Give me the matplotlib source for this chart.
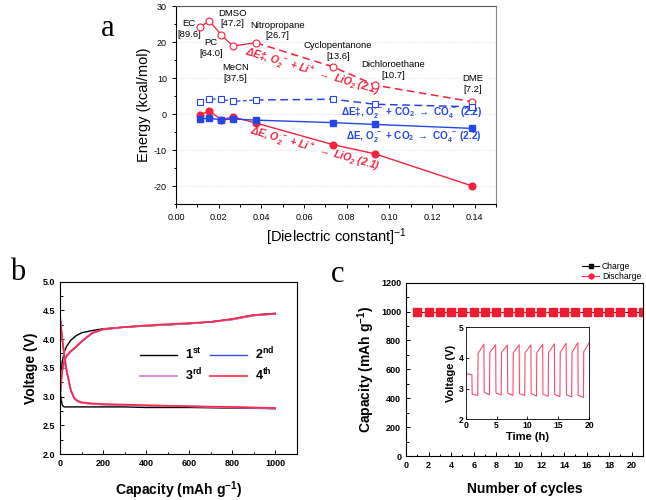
import matplotlib
matplotlib.use("Agg")
import matplotlib.pyplot as plt
from matplotlib.lines import Line2D
from matplotlib.ticker import MultipleLocator, FormatStrFormatter

plt.rcParams['font.family'] = ['Liberation Sans', 'DejaVu Sans']
plt.rcParams['mathtext.default'] = 'regular'
plt.rcParams['axes.unicode_minus'] = False

# ---- panel a: energies vs 1/dielectric constant ----
eps = [89.6, 64.0, 47.2, 37.5, 26.7, 13.6, 10.7, 7.2]
inv_eps = [1.0 / e for e in eps]
de_ts_li = [24.1, 25.9, 22.0, 18.9, 19.8, 13.1, 8.0, 3.4]   # dE‡, O2- + Li+
de_ts_co2 = [3.4, 4.2, 4.1, 3.5, 3.9, 4.1, 2.7, 2.0]        # dE‡, O2- + CO2
de_li = [-0.3, 0.9, -1.6, -0.8, -2.5, -8.5, -11.1, -20.0]   # dE, O2- + Li+
de_co2 = [-1.4, -1.2, -1.6, -1.4, -1.7, -2.4, -2.9, -4.0]   # dE, O2- + CO2
solvent_labels = ['EC\n[89.6]', 'DMSO\n[47.2]', 'PC\n[64.0]', 'MeCN\n[37.5]',
                  'Nitropropane\n[26.7]', 'Cyclopentanone\n[13.6]',
                  'Dichloroethane\n[10.7]', 'DME\n[7.2]']
label_pos = [(0.0061, 23.6), (0.0263, 26.5), (0.0164, 18.3), (0.0280, 11.3),
             (0.0474, 23.2), (0.0759, 17.6), (0.1017, 12.3), (0.1392, 8.3)]

# ---- panel b: voltage profiles ----
cap_ch = [0, 5, 10, 20, 30, 50, 75, 100, 150, 200, 300, 400, 500, 600, 700, 800, 900, 1000]
v_ch1 = [2.85, 3.35, 3.60, 3.78, 3.87, 3.98, 4.06, 4.11, 4.15, 4.18, 4.21, 4.23, 4.25, 4.27, 4.30, 4.35, 4.42, 4.45]
v_ch2 = [3.00, 3.25, 3.45, 3.62, 3.70, 3.78, 3.86, 3.95, 4.10, 4.17, 4.21, 4.23, 4.25, 4.27, 4.30, 4.34, 4.41, 4.44]
v_ch3 = [3.00, 3.24, 3.44, 3.61, 3.70, 3.79, 3.87, 3.96, 4.11, 4.17, 4.21, 4.23, 4.25, 4.27, 4.30, 4.34, 4.41, 4.44]
v_ch4 = [3.00, 3.25, 3.45, 3.62, 3.71, 3.79, 3.87, 3.96, 4.11, 4.17, 4.21, 4.24, 4.26, 4.28, 4.30, 4.35, 4.42, 4.44]
cap_dis = [0, 5, 10, 15, 20, 30, 50, 65, 80, 100, 150, 200, 300, 400, 600, 800, 1000]
v_dis1 = [3.10, 2.95, 2.86, 2.83, 2.82, 2.82, 2.82, 2.82, 2.82, 2.82, 2.82, 2.82, 2.82, 2.81, 2.81, 2.80, 2.79]
v_dis2 = [4.40, 4.20, 4.00, 3.85, 3.70, 3.45, 3.10, 2.97, 2.92, 2.89, 2.87, 2.86, 2.85, 2.84, 2.83, 2.81, 2.79]
v_dis3 = [4.40, 4.21, 4.01, 3.86, 3.71, 3.46, 3.11, 2.98, 2.92, 2.89, 2.87, 2.86, 2.85, 2.84, 2.83, 2.81, 2.80]
v_dis4 = [4.41, 4.22, 4.02, 3.87, 3.72, 3.47, 3.12, 2.98, 2.93, 2.90, 2.88, 2.87, 2.86, 2.85, 2.83, 2.82, 2.80]

# ---- panel c: cycling ----
cycles = [1, 2, 3, 4, 5, 6, 7, 8, 9, 10, 11, 12, 13, 14, 15, 16, 17, 18, 19, 20, 21]
charge_cap = [1000, 1000, 1000, 1000, 1000, 1000, 1000, 1000, 1000, 1000, 1000,
              1000, 1000, 1000, 1000, 1000, 1000, 1000, 1000, 1000, 1000]
discharge_cap = [1000, 1000, 1000, 1000, 1000, 1000, 1000, 1000, 1000, 1000, 1000,
                 1000, 1000, 1000, 1000, 1000, 1000, 1000, 1000, 1000, 1000]
inset_t = [0.0, 1.0, 1.05, 1.95, 2.0, 2.95, 3.0, 3.85, 3.9, 4.85, 4.9, 5.75, 5.8,
           6.75, 6.8, 7.65, 7.7, 8.65, 8.7, 9.55, 9.6, 10.55, 10.6, 11.45, 11.5,
           12.45, 12.5, 13.35, 13.4, 14.35, 14.4, 15.25, 15.3, 16.25, 16.3, 17.15,
           17.2, 18.15, 18.2, 19.05, 19.1, 20.0]
inset_v = [3.50, 3.45, 2.82, 2.78, 4.15, 4.45, 2.88, 2.80, 4.18, 4.43, 2.86, 2.79, 4.18,
           4.42, 2.85, 2.78, 4.17, 4.43, 2.84, 2.77, 4.17, 4.43, 2.84, 2.76, 4.16,
           4.45, 2.82, 2.75, 4.17, 4.46, 2.81, 2.74, 4.18, 4.48, 2.80, 2.73,
           4.18, 4.50, 2.78, 2.71, 4.20, 4.50]

RED = '#f5203c'
BLUE = '#2446e6'

fig = plt.figure(figsize=(6.46, 5.0), dpi=100)

# ================= panel a =================
ax_a = fig.add_axes([0.2724, 0.592, 0.4954, 0.396])
ax_a.plot(inv_eps[:5], de_ts_li[:5], '-', color=RED, lw=0.9, zorder=3)
ax_a.plot(inv_eps[4:], de_ts_li[4:], '--', color=RED, lw=1.1, dashes=(5, 3), zorder=3)
ax_a.plot(inv_eps, de_ts_li, 'o', ms=5, mfc='white', mec=RED, mew=0.8, zorder=4)
ax_a.plot(inv_eps[:5], de_ts_co2[:5], '--', color=BLUE, lw=0.9, dashes=(3, 2), zorder=3)
ax_a.plot(inv_eps[4:], de_ts_co2[4:], '--', color=BLUE, lw=1.1, dashes=(5, 3), zorder=3)
ax_a.plot(inv_eps, de_ts_co2, 's', ms=4.5, mfc='white', mec=BLUE, mew=0.8, zorder=4)
ax_a.plot(inv_eps, de_li, '-o', color=RED, lw=1.0, ms=4.8, zorder=4)
ax_a.plot(inv_eps, de_co2, '-s', color=BLUE, lw=1.0, ms=4.5, zorder=5)

ax_a.set_xlim(0, 0.15)
ax_a.set_ylim(-25, 30)
ax_a.xaxis.set_major_locator(MultipleLocator(0.02))
ax_a.xaxis.set_minor_locator(MultipleLocator(0.01))
ax_a.xaxis.set_major_formatter(FormatStrFormatter('%.2f'))
ax_a.yaxis.set_major_locator(MultipleLocator(10))
ax_a.yaxis.set_minor_locator(MultipleLocator(5))
ax_a.tick_params(which='both', direction='out', labelsize=6.5, width=0.7)
ax_a.tick_params(which='major', length=3)
ax_a.tick_params(which='minor', length=1.8)
ax_a.grid(axis='y', which='major', color='#d8d8d8', linestyle=':', lw=0.6)
for sp in ax_a.spines.values():
    sp.set_linewidth(0.8)
ax_a.spines['right'].set_color('#888888')
ax_a.spines['top'].set_color('#555555')
ax_a.set_xlabel('[Dielectric constant]$^{-1}$', fontsize=10.5, labelpad=3)
ax_a.set_ylabel('Energy (kcal/mol)', fontsize=10.5, labelpad=2)

for txt, (x, y) in zip(solvent_labels, label_pos):
    ax_a.text(x, y, txt, fontsize=6.8, ha='center', va='center', linespacing=1.25)

ax_a.text(0.0638, 11.7, r'ΔE‡, O$_2^{\cdot -}$ + Li$^+$ $\rightarrow$ LiO$_2$ (2.1)', color=RED,
          fontsize=7.5, fontweight='bold', fontstyle='italic', rotation=-16.5,
          rotation_mode='anchor', ha='center', va='center')
ax_a.text(0.0652, -9.85, r'ΔE, O$_2^{\cdot -}$ + Li$^+$ $\rightarrow$ LiO$_2$ (2.1)', color=RED,
          fontsize=7.5, fontweight='bold', fontstyle='italic', rotation=-15.7,
          rotation_mode='anchor', ha='center', va='center')
ax_a.text(0.1435, 0.3, r'ΔE‡, O$_2^{\cdot -}$ + CO$_2$ $\rightarrow$ CO$_4^{\cdot -}$ (2.2)',
          color=BLUE, fontsize=7.2, fontweight='bold', ha='right', va='center')
ax_a.text(0.1435, -6.3, r'ΔE, O$_2^{\cdot -}$ + CO$_2$ $\rightarrow$ CO$_4^{\cdot -}$ (2.2)',
          color=BLUE, fontsize=7.2, fontweight='bold', ha='right', va='center')

fig.text(0.167, 0.944, 'a', family='Liberation Serif', fontsize=22, ha='center', va='center')

# ================= panel b =================
ax_b = fig.add_axes([0.0929, 0.092, 0.3664, 0.3446])
l1, = ax_b.plot(cap_ch, v_ch1, color='black', lw=1.0)
l2, = ax_b.plot(cap_ch, v_ch2, color='#3050e8', lw=1.0)
l3, = ax_b.plot(cap_ch, v_ch3, color='#d27cc4', lw=1.2)
l4, = ax_b.plot(cap_ch, v_ch4, color='#ff2a4a', lw=1.2)
ax_b.plot(cap_dis, v_dis1, color='black', lw=1.0)
ax_b.plot(cap_dis, v_dis2, color='#3050e8', lw=1.0)
ax_b.plot(cap_dis, v_dis3, color='#d27cc4', lw=1.2)
ax_b.plot(cap_dis, v_dis4, color='#ff2a4a', lw=1.2)
ax_b.set_xlim(0, 1100)
ax_b.set_ylim(2.0, 5.0)
ax_b.xaxis.set_major_locator(MultipleLocator(200))
ax_b.xaxis.set_minor_locator(MultipleLocator(100))
ax_b.yaxis.set_major_locator(MultipleLocator(0.5))
ax_b.yaxis.set_minor_locator(MultipleLocator(0.25))
ax_b.yaxis.set_major_formatter(FormatStrFormatter('%.1f'))
ax_b.tick_params(which='both', direction='in', labelsize=6.5, width=0.7)
ax_b.tick_params(which='major', length=3)
ax_b.tick_params(which='minor', length=1.8)
for lab in ax_b.get_xticklabels() + ax_b.get_yticklabels():
    lab.set_fontweight('bold')
for sp in ax_b.spines.values():
    sp.set_linewidth(0.8)
ax_b.set_xlabel('Capacity (mAh g$^{-1}$)', fontsize=10, fontweight='bold', labelpad=8)
ax_b.set_ylabel('Voltage (V)', fontsize=10, fontweight='bold', labelpad=3)
ax_b.legend([l1, l3, l2, l4], ['1$^{st}$', '3$^{rd}$', '2$^{nd}$', '4$^{th}$'],
            ncol=2, frameon=False, loc='center', bbox_to_anchor=(0.62, 0.52),
            handlelength=3.0, columnspacing=0.6, handletextpad=0.6,
            labelspacing=0.35, prop={'weight': 'bold', 'size': 9})
fig.text(0.027, 0.455, 'b', family='Liberation Serif', fontsize=22, ha='center', va='center')

# ================= panel c =================
ax_c = fig.add_axes([0.6285, 0.088, 0.3669, 0.3466])
ax_c.plot(cycles, charge_cap, '-s', color='black', lw=0.8, ms=4.8)
ax_c.plot(cycles, discharge_cap, '--s', color='#ee1c30', lw=0.8, ms=5.2, dashes=(3, 2))
ax_c.set_xlim(0, 21)
ax_c.set_ylim(0, 1200)
ax_c.xaxis.set_major_locator(MultipleLocator(2))
ax_c.xaxis.set_minor_locator(MultipleLocator(1))
ax_c.yaxis.set_major_locator(MultipleLocator(200))
ax_c.yaxis.set_minor_locator(MultipleLocator(100))
ax_c.tick_params(which='both', direction='in', labelsize=6.5, width=0.7)
ax_c.tick_params(which='major', length=3)
ax_c.tick_params(which='minor', length=1.8)
for lab in ax_c.get_xticklabels() + ax_c.get_yticklabels():
    lab.set_fontweight('bold')
for sp in ax_c.spines.values():
    sp.set_linewidth(0.8)
ax_c.set_xlabel('Number of cycles', fontsize=10, fontweight='bold', labelpad=9)
ax_c.set_ylabel('Capacity (mAh g$^{-1}$)', fontsize=10, fontweight='bold', labelpad=3)
handles = [Line2D([], [], color='black', marker='s', ms=3.5, lw=0.8),
           Line2D([], [], color='#ff2040', marker='o', ms=3.5, lw=0.8)]
ax_c.legend(handles, ['Charge', 'Discharge'], loc='lower right', bbox_to_anchor=(1.0, 1.0),
            frameon=False, fontsize=6.2, handlelength=2.0, handletextpad=0.3,
            labelspacing=0.15, borderaxespad=0.1, borderpad=0.1)
fig.text(0.522, 0.45, 'c', family='Liberation Serif', fontsize=22, ha='center', va='center')

# inset
ax_in = fig.add_axes([0.7209, 0.1614, 0.1913, 0.184])
ax_in.plot(inset_t, inset_v, color='#ff4a6a', lw=0.8)
ax_in.set_xlim(0, 20)
ax_in.set_ylim(2, 5)
ax_in.xaxis.set_major_locator(MultipleLocator(5))
ax_in.yaxis.set_major_locator(MultipleLocator(1))
ax_in.tick_params(which='both', direction='in', labelsize=6.2, width=0.6, length=2, pad=1.5)
for lab in ax_in.get_xticklabels() + ax_in.get_yticklabels():
    lab.set_fontweight('bold')
for sp in ax_in.spines.values():
    sp.set_linewidth(0.6)
ax_in.set_xlabel('Time (h)', fontsize=8, fontweight='bold', labelpad=1)
ax_in.set_ylabel('Voltage (V)', fontsize=8, fontweight='bold', labelpad=2)

fig.savefig('out.png', dpi=100)
